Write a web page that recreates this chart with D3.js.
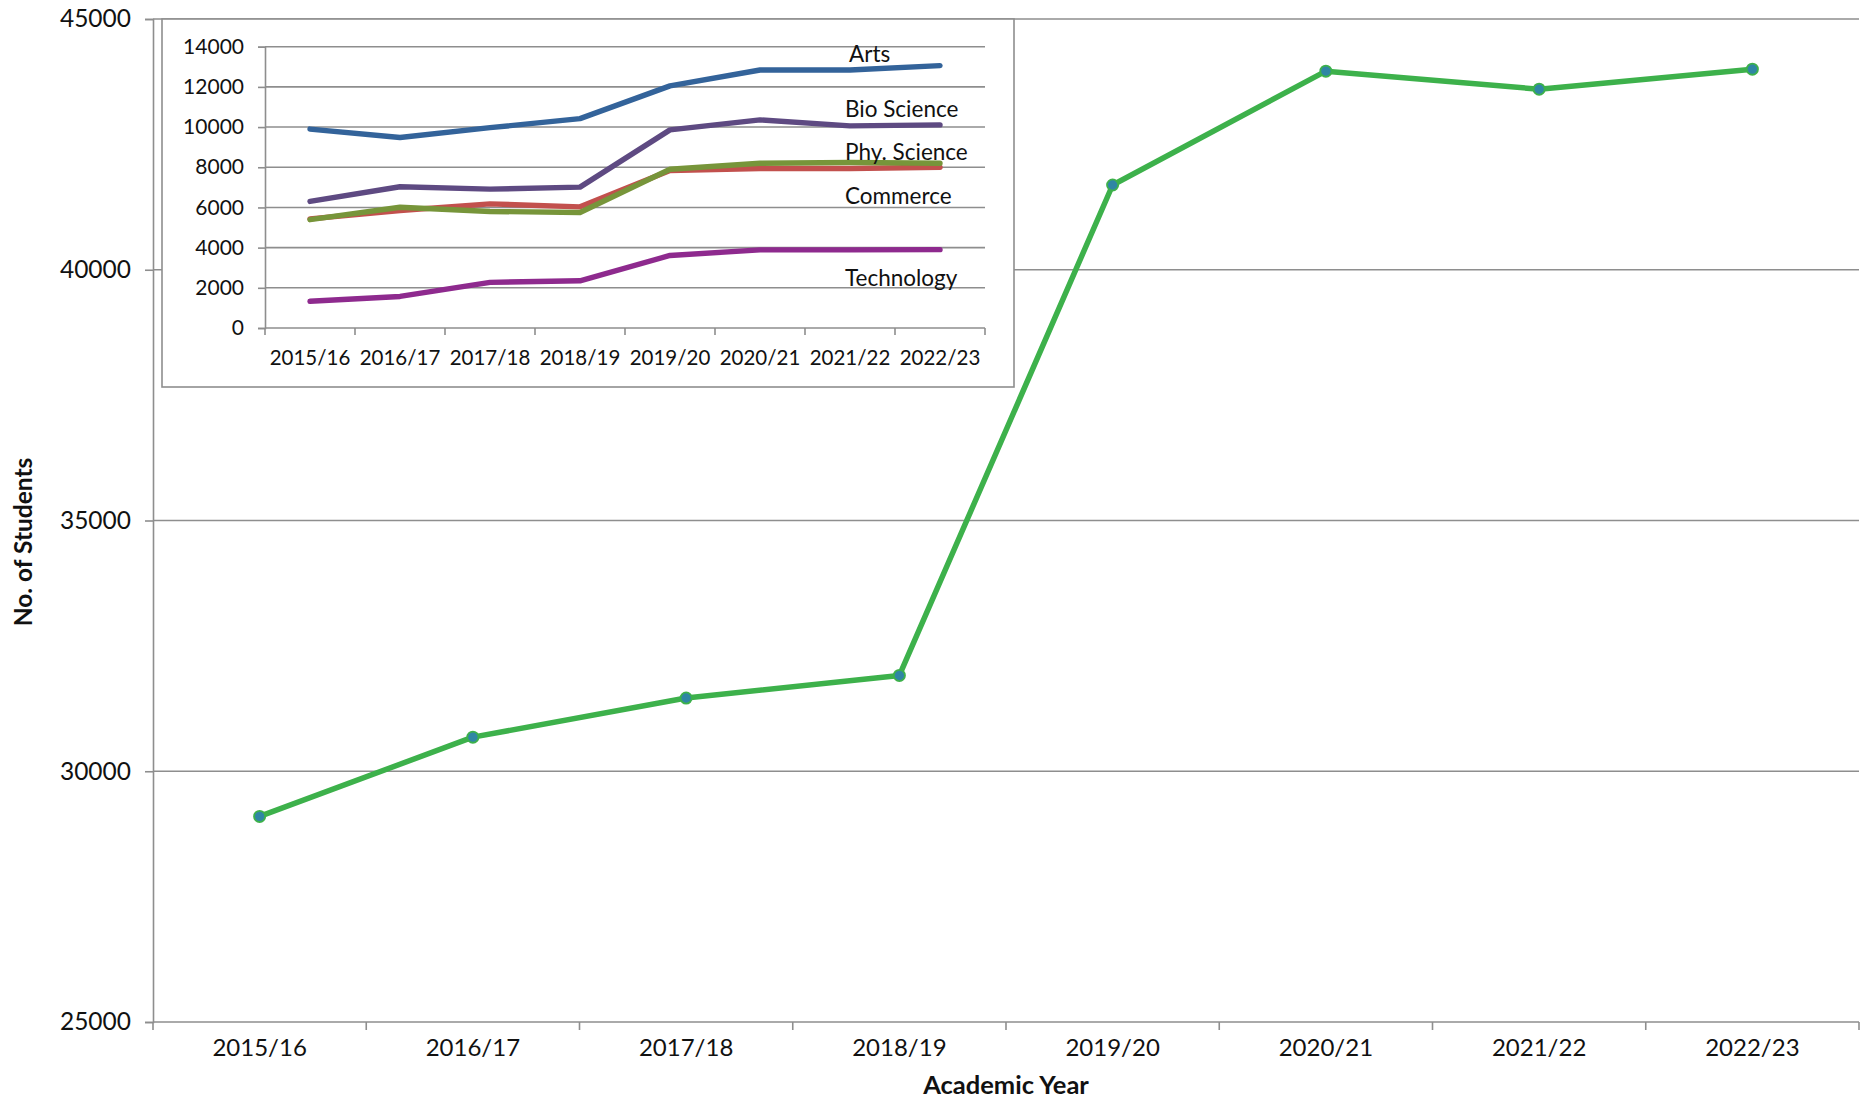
<!DOCTYPE html>
<html>
<head>
<meta charset="utf-8">
<script src="https://cdn.jsdelivr.net/npm/d3@7"></script>
<style>
  html, body { margin: 0; padding: 0; background: #ffffff; }
  svg { display: block; }
  text { font-family: Lato, "Open Sans", "DejaVu Sans", sans-serif; fill: #111; }
</style>
</head>
<body>
<svg id="chart" width="1861" height="1099"></svg>
<script>
// ---------- DATA ----------
const years = ["2015/16", "2016/17", "2017/18", "2018/19", "2019/20", "2020/21", "2021/22", "2022/23"];
const totalStudents = [29100, 30680, 31460, 31910, 41690, 43960, 43600, 44000];
const mainTicks = [25000, 30000, 35000, 40000, 45000];

const seriesNames = ["Arts", "Bio Science", "Commerce", "Phy. Science", "Technology"];
const arts        = [9900, 9480, 9970, 10420, 12050, 12840, 12840, 13060];
const bioScience  = [6300, 7030, 6910, 7010, 9860, 10360, 10060, 10110];
const commerce    = [5430, 5850, 6180, 6030, 7840, 7940, 7940, 8000];
const physScience = [5390, 6010, 5800, 5750, 7900, 8200, 8240, 8200];
const technology  = [1330, 1570, 2270, 2350, 3610, 3890, 3890, 3900];
const insetTicks = [0, 2000, 4000, 6000, 8000, 10000, 12000, 14000];

// inset label anchors (label text, value at baseline)
const insetLabels = ["Arts", "Bio Science", "Phy. Science", "Commerce", "Technology"];
const insetLabelValues = [13240, 10500, 8380, 6170, 2110];

// ---------- STYLES ----------
const colors = {
  "Arts": "#33639a",
  "Bio Science": "#5e4a82",
  "Commerce": "#c2504d",
  "Phy. Science": "#77953a",
  "Technology": "#8e2a8e"
};
const gridColor = "#8e8e8e";

const svg = d3.select("#chart");

// ---------- MAIN CHART ----------
const mLeft = 153, mRight = 1859, mTop = 19, mBottom = 1022;
const x = d3.scaleBand().domain(years).range([mLeft, mRight]).padding(0);
const y = d3.scaleLinear().domain([25000, 45000]).range([mBottom, mTop]);

const gMain = svg.append("g");

// gridlines
gMain.selectAll("line.grid").data(mainTicks.filter(d => d > 25000)).enter()
  .append("line")
  .attr("x1", mLeft).attr("x2", mRight)
  .attr("y1", d => y(d)).attr("y2", d => y(d))
  .attr("stroke", gridColor).attr("stroke-width", 1.6);

// y axis
const yAxis = d3.axisLeft(y).tickValues(mainTicks).tickSize(8).tickPadding(14).tickFormat(d3.format("d"));
const gy = gMain.append("g").attr("transform", `translate(${mLeft},0)`).call(yAxis);
gy.select(".domain").attr("stroke", gridColor).attr("stroke-width", 1.6);
gy.selectAll(".tick line").attr("stroke", gridColor).attr("stroke-width", 1.6);
gy.selectAll(".tick text").attr("font-size", 24.5).attr("font-family", "Lato, sans-serif").attr("fill", "#111");

// x axis
const gx = gMain.append("g").attr("transform", `translate(0,${mBottom})`);
gx.append("line").attr("x1", mLeft).attr("x2", mRight).attr("y1", 0).attr("y2", 0)
  .attr("stroke", gridColor).attr("stroke-width", 1.6);
const bounds = years.map(d => x(d)).concat([x(years[years.length - 1]) + x.bandwidth()]);
gx.selectAll("line.tk").data(bounds).enter().append("line")
  .attr("x1", d => d).attr("x2", d => d).attr("y1", 0).attr("y2", 8)
  .attr("stroke", gridColor).attr("stroke-width", 1.6);
gx.selectAll("text").data(years).enter().append("text")
  .attr("x", d => x(d) + x.bandwidth() / 2)
  .attr("y", 34)
  .attr("text-anchor", "middle")
  .attr("font-size", 24)
  .text(d => d);

// axis titles
svg.append("text")
  .attr("x", (mLeft + mRight) / 2).attr("y", 1094)
  .attr("text-anchor", "middle").attr("font-size", 25.5).attr("font-weight", "bold")
  .text("Academic Year");
svg.append("text")
  .attr("transform", `translate(32,${542}) rotate(-90)`)
  .attr("text-anchor", "middle").attr("font-size", 24.5).attr("font-weight", "bold")
  .text("No. of Students");

// ---------- INSET ----------
const iBox = { x: 162, y: 19, w: 852, h: 368 };
svg.append("rect")
  .attr("x", iBox.x).attr("y", iBox.y).attr("width", iBox.w).attr("height", iBox.h)
  .attr("fill", "#ffffff").attr("stroke", gridColor).attr("stroke-width", 1.6);

const iLeft = 265, iRight = 985, iTop = 46.7, iBottom = 328;
const xi = d3.scaleBand().domain(years).range([iLeft, iRight]).padding(0);
const yi = d3.scaleLinear().domain([0, 14000]).range([iBottom, iTop]);

const gIn = svg.append("g");
gIn.selectAll("line.igrid").data(insetTicks.filter(d => d > 0)).enter()
  .append("line")
  .attr("x1", iLeft).attr("x2", iRight)
  .attr("y1", d => yi(d)).attr("y2", d => yi(d))
  .attr("stroke", gridColor).attr("stroke-width", 1.6);

const yiAxis = d3.axisLeft(yi).tickValues(insetTicks).tickSize(7).tickPadding(14).tickFormat(d3.format("d"));
const gyi = gIn.append("g").attr("transform", `translate(${iLeft},0)`).call(yiAxis);
gyi.select(".domain").attr("stroke", gridColor).attr("stroke-width", 1.6);
gyi.selectAll(".tick line").attr("stroke", gridColor).attr("stroke-width", 1.6);
gyi.selectAll(".tick text").attr("font-size", 21).attr("font-family", "Lato, sans-serif").attr("fill", "#111");

const gxi = gIn.append("g").attr("transform", `translate(0,${iBottom})`);
gxi.append("line").attr("x1", iLeft).attr("x2", iRight).attr("y1", 0).attr("y2", 0)
  .attr("stroke", gridColor).attr("stroke-width", 1.6);
const ibounds = years.map(d => xi(d)).concat([xi(years[years.length - 1]) + xi.bandwidth()]);
gxi.selectAll("line.tk").data(ibounds).enter().append("line")
  .attr("x1", d => d).attr("x2", d => d).attr("y1", 0).attr("y2", 7)
  .attr("stroke", gridColor).attr("stroke-width", 1.6);
gxi.selectAll("text").data(years).enter().append("text")
  .attr("x", d => xi(d) + xi.bandwidth() / 2)
  .attr("y", 37)
  .attr("text-anchor", "middle")
  .attr("font-size", 20.5)
  .text(d => d);

const seriesData = {
  "Arts": arts,
  "Bio Science": bioScience,
  "Commerce": commerce,
  "Phy. Science": physScience,
  "Technology": technology
};
const iLine = d3.line()
  .x((d, i) => xi(years[i]) + xi.bandwidth() / 2)
  .y(d => yi(d));
seriesNames.forEach(name => {
  gIn.append("path")
    .datum(seriesData[name])
    .attr("d", iLine)
    .attr("fill", "none")
    .attr("stroke", colors[name])
    .attr("stroke-width", 5.4)
    .attr("stroke-linecap", "round")
    .attr("stroke-linejoin", "round");
});

gIn.selectAll("text.ilabel").data(insetLabels).enter().append("text")
  .attr("class", "ilabel")
  .attr("x", (d, i) => xi("2021/22") + (i === 0 ? 44 : 40))
  .attr("y", (d, i) => yi(insetLabelValues[i]))
  .attr("font-size", 22.5)
  .text(d => d);

// ---------- MAIN LINE (drawn on top) ----------
const mLine = d3.line()
  .x((d, i) => x(years[i]) + x.bandwidth() / 2)
  .y(d => y(d));
svg.append("path")
  .datum(totalStudents)
  .attr("d", mLine)
  .attr("fill", "none")
  .attr("stroke", "#3db14b")
  .attr("stroke-width", 5.5)
  .attr("stroke-linejoin", "round");
svg.selectAll("circle.pt").data(totalStudents).enter().append("circle")
  .attr("cx", (d, i) => x(years[i]) + x.bandwidth() / 2)
  .attr("cy", d => y(d))
  .attr("r", 5.6)
  .attr("fill", "#2f86a4")
  .attr("stroke", "#3db14b")
  .attr("stroke-width", 1.8);
</script>
</body>
</html>
